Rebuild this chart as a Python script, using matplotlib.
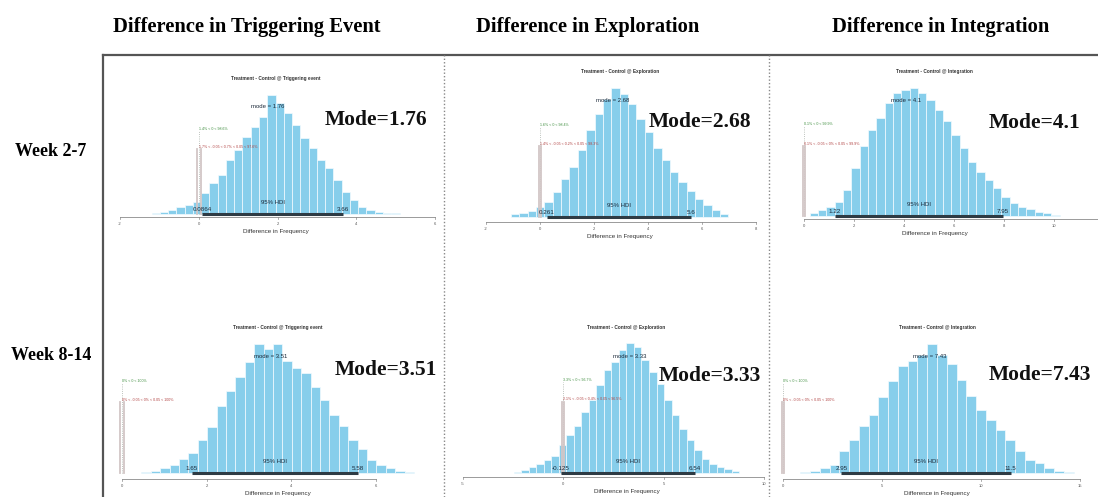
import numpy as np
import matplotlib
matplotlib.use("Agg")
import matplotlib.pyplot as plt
from matplotlib.lines import Line2D

W, H = 1098, 497

col_headers = ["Difference in Triggering Event", "Difference in Exploration", "Difference in Integration"]
row_labels = ["Week 2-7", "Week 8-14"]
plot_titles = ["Treatment - Control @ Triggering event", "Treatment - Control @ Exploration",
               "Treatment - Control @ Integration"] * 2
x_label = "Difference in Frequency"

# posterior histogram bar heights (relative units)
trig_w1 = [3, 6, 12, 20, 26, 35, 62, 92, 118, 162, 192, 230, 262, 292, 357, 332, 302, 267, 227, 197,
           162, 137, 102, 67, 42, 22, 12, 7, 4, 2]
expl_w1 = [8, 12, 18, 30, 45, 75, 115, 150, 202, 260, 310, 355, 387, 370, 340, 295, 255, 208, 170, 135,
           105, 78, 55, 35, 20, 10]
integ_w1 = [8, 18, 28, 43, 78, 143, 208, 258, 293, 338, 368, 378, 383, 368, 348, 318, 283, 243, 203, 163,
            133, 108, 83, 58, 38, 28, 20, 13, 8, 4]
trig_w2 = [3, 7, 15, 25, 42, 60, 100, 138, 202, 245, 288, 332, 387, 372, 387, 335, 315, 300, 258, 220,
           175, 140, 100, 72, 40, 25, 15, 7, 3]
expl_w2 = [3, 10, 18, 28, 38, 50, 83, 113, 140, 183, 218, 263, 308, 333, 368, 390, 378, 338, 303, 268,
           218, 173, 133, 98, 68, 43, 28, 18, 11, 5]
integ_w2 = [2, 7, 15, 25, 65, 100, 140, 175, 228, 275, 320, 335, 355, 387, 355, 327, 280, 230, 190, 160,
            130, 100, 65, 40, 30, 15, 7, 2]
hist_counts = [trig_w1, expl_w1, integ_w1, trig_w2, expl_w2, integ_w2]
# first bin edge, bin width
bin_start = [-1.2, -1.08, 0.23, 0.46, -2.48, 0.875]
bin_width = [0.21, 0.31, 0.333, 0.222, 0.375, 0.493]

modes = [1.76, 2.68, 4.1, 3.51, 3.33, 7.43]
mode_text = ["1.76", "2.68", "4.1", "3.51", "3.33", "7.43"]
hdi_low = [0.0864, 0.261, 1.22, 1.65, -0.125, 2.95]
hdi_high = [3.66, 5.6, 7.95, 5.58, 6.54, 11.5]
hdi_low_text = ["0.0864", "0.261", "1.22", "1.65", "-0.125", "2.95"]
hdi_high_text = ["3.66", "5.6", "7.95", "5.58", "6.54", "11.5"]
comp_text = ["1.4% < 0 < 98.6%", "1.6% < 0 < 98.4%", "0.1% < 0 < 99.9%",
             "0% < 0 < 100%", "3.3% < 0 < 96.7%", "0% < 0 < 100%"]
rope_text = ["1.7% < -0.05 < 0.7% < 0.05 < 97.6%", "1.4% < -0.05 < 0.2% < 0.05 < 98.3%",
             "0.1% < -0.05 < 0% < 0.05 < 99.9%", "0% < -0.05 < 0% < 0.05 < 100%",
             "2.1% < -0.05 < 0.4% < 0.05 < 96.5%", "0% < -0.05 < 0% < 0.05 < 100%"]
x_ticks = [[-2, 0, 2, 4, 6], [-2, 0, 2, 4, 6, 8], [0, 2, 4, 6, 8, 10],
           [0, 2, 4, 6], [-5, 0, 5, 10], [0, 5, 10, 15]]

# layout in pixels: px at xlo, px at xhi, xlo, xhi, baseline y, peak y, axis drop, axis line end
layout = [(120, 435, -2, 6, 214, 95, 3, 6), (486, 756, -2, 8, 217, 88, 5, 8),
          (804, 1054, 0, 10, 216, 88, 3, 11.8),
          (122, 376, 0, 6, 473, 344, 6, 6), (463, 764, -5, 10, 473, 343, 4, 10),
          (783, 1080, 0, 15, 473, 344, 6, 15)]
big_pos = [(376, 120), (700, 122), (1035, 123), (386, 370), (710, 376), (1040, 375)]

SANS = "Liberation Sans"
SERIF = "Liberation Serif"
fig = plt.figure(figsize=(W / 100, H / 100), dpi=100)

for i in range(6):
    lo, hi, xlo, xhi, base, top, drop, xend = layout[i]
    counts = np.array(hist_counts[i], float)
    m = counts.max()
    edges = bin_start[i] + bin_width[i] * np.arange(len(counts))
    ax = fig.add_axes([lo / W, 1 - base / H, (hi - lo) / W, (base - top) / H])
    ax.set_xlim(xlo, xhi); ax.set_ylim(0, m); ax.axis("off")
    k = m / (base - top)  # data units per pixel
    ax.bar(edges, counts, width=bin_width[i], align="edge", color="#87CEEB", edgecolor="#f4fbff",
           linewidth=0.5, clip_on=False, zorder=1)
    # comparison value + rope lines
    ax.plot([0, 0], [0, 0.7 * m], color="#a8b0a8", lw=0.6, ls=":", clip_on=False, zorder=2)
    for r in (-0.05, 0.05):
        ax.plot([r, r], [0, 0.55 * m], color="#d2c6c6", lw=1.3, clip_on=False, zorder=2)
    ax.text(0, 0.7 * m, comp_text[i], color="#3c8c3c", fontsize=2.6, family=SANS, ha="left", va="bottom")
    ax.text(0, 0.55 * m, rope_text[i], color="#b04040", fontsize=2.6, family=SANS, ha="left", va="bottom")
    # HDI
    ax.plot([hdi_low[i], hdi_high[i]], [0, 0], color="#2e3b44", lw=2.2, solid_capstyle="butt",
            clip_on=False, zorder=3)
    ax.text((hdi_low[i] + hdi_high[i]) / 2, 9 * k, "95% HDI", fontsize=4.3, family=SANS,
            color="#1c2a3a", ha="center", va="bottom")
    ax.text(hdi_low[i], 2 * k, hdi_low_text[i], fontsize=4.5, family=SANS, color="#1c2a3a",
            ha="center", va="bottom")
    ax.text(hdi_high[i], 2 * k, hdi_high_text[i], fontsize=4.5, family=SANS, color="#1c2a3a",
            ha="center", va="bottom")
    ax.text(modes[i], 0.9 * m, "mode = " + mode_text[i], fontsize=4.3, family=SANS, color="#1c2a3a",
            ha="center", va="center")
    # x axis
    ya = -drop * k
    tk = x_ticks[i]
    ax.plot([tk[0], xend], [ya, ya], color="#8a8a8a", lw=0.6, clip_on=False)
    for t in tk:
        ax.plot([t, t], [ya, ya - 2 * k], color="#8a8a8a", lw=0.5, clip_on=False)
        ax.text(t, ya - 5 * k, str(t), fontsize=3, family=SANS, color="#555555", ha="center", va="top")
    mid = bin_start[i] + bin_width[i] * len(counts) / 2
    ax.text(mid, ya - 12 * k, x_label, fontsize=4.5, family=SANS, color="#333333", ha="center", va="top")
    ax.text(mid, m + 16 * k, plot_titles[i], fontsize=3.4, family=SANS, weight="bold", color="#333333",
            ha="center", va="center")
    bx, by = big_pos[i]
    fig.text(bx / W, 1 - by / H, "Mode=" + mode_text[i], fontsize=15.5, family=SERIF, weight="bold",
             color="#111111", ha="center", va="center")

# column headers and row labels
for cx, txt in zip([247, 588, 941], col_headers):
    fig.text(cx / W, 1 - 27 / H, txt, fontsize=14.8, family=SERIF, weight="bold", ha="center", va="center")
for cy, txt in zip([152, 355], row_labels):
    fig.text(51 / W, 1 - cy / H, txt, fontsize=13, family=SERIF, weight="bold", ha="center", va="center")

# frame and dividers
fig.add_artist(Line2D([103 / W, 1], [1 - 55 / H] * 2, color="#555555", lw=1.6))
fig.add_artist(Line2D([103 / W] * 2, [0, 1 - 55 / H], color="#555555", lw=1.6))
for dx in (444, 769):
    fig.add_artist(Line2D([dx / W] * 2, [0, 1 - 55 / H], color="#888888", lw=1.0, ls=(0, (1, 1.5))))

fig.savefig("out.png", dpi=100, facecolor="white")
